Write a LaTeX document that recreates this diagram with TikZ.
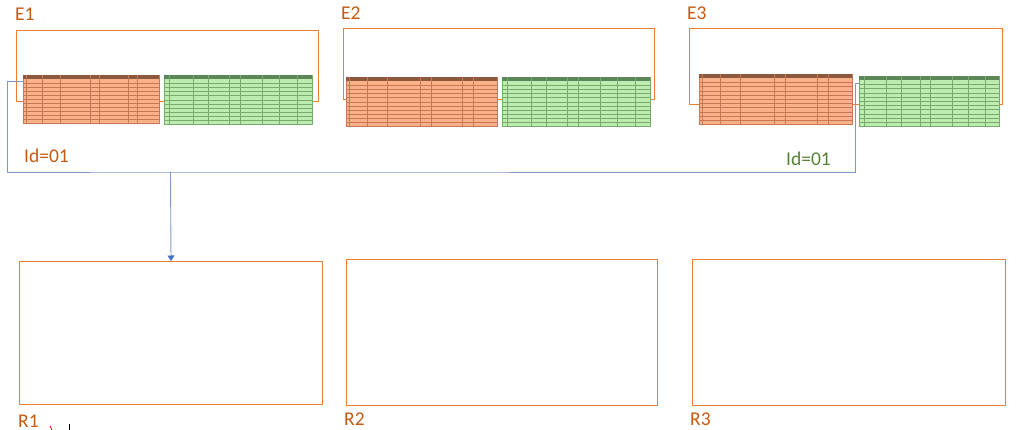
\documentclass[tikz,border=0pt]{standalone}
\usepackage{fontspec}
\setmainfont{Carlito}
\usetikzlibrary{arrows.meta,calc,positioning}
\definecolor{boxorange}{RGB}{237,125,49}
\definecolor{txtorange}{RGB}{197,90,17}
\definecolor{txtgreen}{RGB}{84,130,53}
\definecolor{linkblue}{RGB}{125,152,200}
\definecolor{tipblue}{RGB}{68,114,196}
\definecolor{orgcell}{RGB}{250,176,136}
\definecolor{orgline}{RGB}{200,120,82}
\definecolor{orghead}{RGB}{140,88,62}
\definecolor{grncell}{RGB}{190,236,176}
\definecolor{grnline}{RGB}{120,172,108}
\definecolor{grnhead}{RGB}{92,135,88}
\tikzset{
  frame_box/.style={rectangle, draw=boxorange, line width=1pt, inner sep=0pt, anchor=north west},
  table_box/.style={rectangle, inner sep=0pt, line width=.4pt, anchor=north west},
  caption/.style={font=\fontsize{19.5}{22}\selectfont, text=txtorange, inner sep=0pt, anchor=base west},
  link/.style={draw=linkblue, line width=.9pt}}
% column splits of the two sheet excerpts
\newcommand{\orgcols}{.02,.14,.27,.49,.56,.77,.84}
\newcommand{\grncols}{.036,.194,.300,.436,.510,.661,.774,.898}
% #1 name, #2 north west corner, #3 width, #4 height, #5 colour prefix, #6 column splits
\newcommand{\datatable}[6]{%
  \node[table_box, fill=#5cell, draw=#5line, minimum width=#3, minimum height=#4] (#1) at #2 {};
  \fill[#5head] (#1.north west) rectangle ($(#1.north east)!1/12!(#1.south east)$);
  \foreach \k in {2,...,11}
    \draw[#5line, line width=.3pt] ($(#1.north west)!\k/12!(#1.south west)$) -- ($(#1.north east)!\k/12!(#1.south east)$);
  \foreach \f in #6
    \draw[#5line, line width=.3pt] ($(#1.north west)!\f!(#1.north east)$) -- ($(#1.south west)!\f!(#1.south east)$);
}

\begin{document}
\begin{tikzpicture}[x=1pt,y=-1pt]
\useasboundingbox (0,0) rectangle (1020,430);

% extract frames
\node[frame_box, minimum width=302pt, minimum height=71pt] (e1box) at (16,30) {};
\node[frame_box, minimum width=311pt, minimum height=71pt] (e2box) at (343,28) {};
\node[frame_box, minimum width=313pt, minimum height=76pt] (e3box) at (689,28) {};

% sheet excerpts
\datatable{e1org}{(23,75)}{136pt}{48pt}{org}{\orgcols}
\datatable{e1grn}{(164,75)}{148pt}{49pt}{grn}{\grncols}
\datatable{e2org}{(346,77)}{151pt}{49pt}{org}{\orgcols}
\datatable{e2grn}{(502,77)}{148pt}{49pt}{grn}{\grncols}
\datatable{e3org}{(699,74)}{153pt}{50pt}{org}{\orgcols}
\datatable{e3grn}{(859,76)}{140pt}{50pt}{grn}{\grncols}

% result frames
\node[frame_box, minimum width=303pt, minimum height=143pt] (r1box) at (19,261) {};
\node[frame_box, minimum width=311pt, minimum height=146pt] (r2box) at (346,259) {};
\node[frame_box, minimum width=313pt, minimum height=146pt] (r3box) at (692,259) {};

% labels
\node[caption] (e1lbl) at (15,21) {E1};
\node[caption] (e2lbl) at (341,20) {E2};
\node[caption] (e3lbl) at (687,20) {E3};
\node[caption] (e1id) at (24,163) {Id=01};
\node[caption, text=txtgreen] (e3id) at (786,166) {Id=01};
\node[caption] (r1lbl) at (18,427) {R1};
\node[caption] (r2lbl) at (344,425) {R2};
\node[caption] (r3lbl) at (690,425) {R3};

% join of the two sheets
\coordinate (join) at (170.5,172);
\draw[link] ([yshift=-6pt]e1org.north west) -- ++(-16,0) |- (join)
  -| ([xshift=-4pt,yshift=-7pt]e3grn.north west) -- ([yshift=-7pt]e3grn.north west);
\draw[link, -{Triangle[width=7pt,length=5.5pt,color=tipblue]}] (join) -- (r1box.north);

% cut-off marks at the bottom
\draw[red, line width=.8pt] (50,426) -- (52,430);
\draw[black, line width=.8pt] (69,424) -- (69,430);
\end{tikzpicture}
\end{document}
